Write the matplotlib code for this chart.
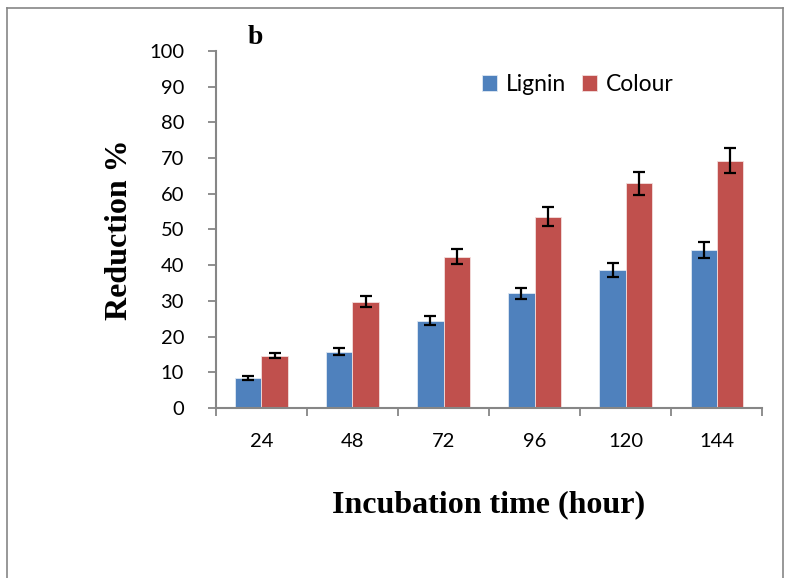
import numpy as np
import matplotlib; matplotlib.use("Agg")
import matplotlib.pyplot as plt
from matplotlib.lines import Line2D

hours = ["24", "48", "72", "96", "120", "144"]
lignin = [8.4, 15.8, 24.5, 32.1, 38.7, 44.2]
lignin_err = [0.5, 0.9, 1.35, 1.6, 2.0, 2.2]
colour = [14.7, 29.8, 42.4, 53.6, 63.0, 69.3]
colour_err = [0.8, 1.6, 2.1, 2.7, 3.2, 3.5]

BLUE, RED, GRAY = "#4F81BD", "#C0504D", "#868686"
SANS = ["Lato", "DejaVu Sans"]
SERIF = ["Liberation Serif", "DejaVu Serif"]

fig = plt.figure(figsize=(7.9, 5.78), dpi=100)
ax = fig.add_axes([0.2734, 0.2941, 0.6912, 0.6177])

x = np.arange(len(hours)); w = 0.286
ekw = dict(ecolor="black", elinewidth=1.6, capthick=1.6)
ax.bar(x - w / 2, lignin, w, yerr=lignin_err, capsize=4.5, color=BLUE,
       edgecolor="#dfe8f3", linewidth=0.6, error_kw=ekw, label="Lignin")
ax.bar(x + w / 2, colour, w, yerr=colour_err, capsize=4.5, color=RED,
       edgecolor="#f3dede", linewidth=0.6, error_kw=ekw, label="Colour")

ax.set_ylim(0, 100); ax.set_xlim(-0.5, len(hours) - 0.5)
ax.set_yticks(np.arange(0, 101, 10))
ax.set_xticks(np.arange(-0.5, len(hours)), [""] * (len(hours) + 1))
ax.set_xticks(x, hours, minor=True)
ax.tick_params(axis="y", length=6, width=1.3, color=GRAY, labelsize=14.5, pad=17)
ax.tick_params(axis="x", which="major", length=6, width=1.3, color=GRAY)
ax.tick_params(axis="x", which="minor", length=0, labelsize=14.5, pad=18)
for lab in ax.get_xticklabels(minor=True) + ax.get_yticklabels():
    lab.set_family(SANS)
for s in ("top", "right"):
    ax.spines[s].set_visible(False)
for s in ("left", "bottom"):
    ax.spines[s].set_color(GRAY); ax.spines[s].set_linewidth(1.5)

ax.set_ylabel("Reduction %", family=SERIF, weight="bold", fontsize=23, labelpad=11)
ax.set_xlabel("Incubation time (hour)", family=SERIF, weight="bold", fontsize=23, labelpad=29)
ax.legend(loc="upper left", bbox_to_anchor=(0.487, 0.935), ncol=2, frameon=False,
          borderpad=0, borderaxespad=0,
          prop=dict(family=SANS, size=16.5), handlelength=0.65, handleheight=0.65,
          handletextpad=0.4, columnspacing=0.7)
fig.text(0.323, 0.935, "b", family=SERIF, weight="bold", fontsize=20, ha="center", va="center")

# chart-area border
x0, x1, y0 = 7 / 790, 783 / 790, 1 - 8 / 578
for xs, ys in [([x0, x0], [0, y0]), ([x0, x1], [y0, y0]), ([x1, x1], [y0, 0])]:
    fig.add_artist(Line2D(xs, ys, color=GRAY, lw=1.2, transform=fig.transFigure))

fig.savefig("out.png", dpi=100)
